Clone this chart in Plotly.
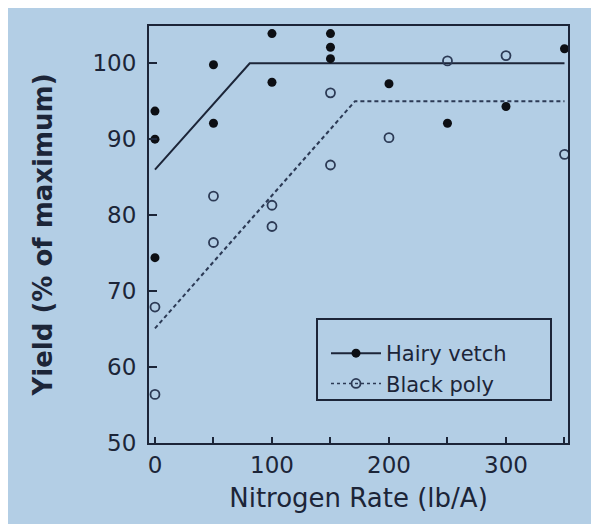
import plotly.graph_objects as go

# Data
vetch_x = [0, 0, 0, 50, 50, 100, 100, 150, 150, 150, 200, 250, 300, 350]
vetch_y = [93.7, 90.0, 74.4, 99.8, 92.1, 103.9, 97.5, 103.9, 102.1, 100.6, 97.3, 92.1, 94.3, 101.9]

poly_x = [0, 0, 50, 50, 100, 100, 150, 150, 200, 250, 300, 350]
poly_y = [67.9, 56.4, 82.5, 76.4, 81.3, 78.5, 96.1, 86.6, 90.2, 100.3, 101.0, 88.0]

vetch_fit_x = [0, 81, 350]
vetch_fit_y = [86.0, 100.0, 100.0]

poly_fit_x = [0, 171, 350]
poly_fit_y = [65.1, 95.0, 95.0]

x_tickvals = [0, 50, 100, 150, 200, 250, 300, 350]
x_ticktext = ["0", "", "100", "", "200", "", "300", ""]
y_tickvals = [50, 60, 70, 80, 90, 100]

BG = "#b3cee5"
INK = "#1c2538"
FONT = "DejaVu Sans"

# plot-area box in screen px (page has an 8px body margin)
L, R, T, B = 149, 568, 26, 443
OFF = 8
W, H = 599, 524


def isolate(xs, ys):
    ox, oy = [], []
    for a, b in zip(xs, ys):
        ox += [a, None]
        oy += [b, None]
    return ox, oy


def px_x(v):
    return (v - L) / (R - L)


def px_y(v):
    return (B - v) / (B - T)


fig = go.Figure()

vx, vy = isolate(vetch_x, vetch_y)
px_, py_ = isolate(poly_x, poly_y)

fig.add_trace(go.Scatter(
    x=vetch_fit_x, y=vetch_fit_y, mode="lines", showlegend=False,
    line=dict(color=INK, width=2), hoverinfo="skip"))
fig.add_trace(go.Scatter(
    x=poly_fit_x, y=poly_fit_y, mode="lines", showlegend=False,
    line=dict(color="#2c3a55", width=2, dash="4px,3px"), hoverinfo="skip"))

fig.add_trace(go.Scatter(
    x=vx, y=vy, mode="lines+markers", name="Hairy vetch", connectgaps=False,
    line=dict(color=INK, width=2),
    marker=dict(symbol="circle", size=9, color="#0d0f14")))
fig.add_trace(go.Scatter(
    x=px_, y=py_, mode="lines+markers", name="Black poly", connectgaps=False,
    line=dict(color="#2c3a55", width=1.5, dash="3px,3px"),
    marker=dict(symbol="circle-open", size=9, color="#2c3a55",
                line=dict(width=1.8, color="#2c3a55"))))

# legend frame
fig.add_shape(type="rect", xref="paper", yref="paper",
              x0=px_x(317), x1=px_x(551), y0=px_y(400), y1=px_y(319),
              line=dict(color=INK, width=2), fillcolor="rgba(0,0,0,0)")

fig.update_layout(
    width=W, height=H,
    margin=dict(l=L - OFF, r=W - (R - OFF), t=T - OFF, b=H - (B - OFF)),
    paper_bgcolor=BG, plot_bgcolor=BG,
    font=dict(family=FONT, color=INK, size=20),
    showlegend=True,
    legend=dict(x=px_x(326), y=px_y(333), xanchor="left", yanchor="top",
                bgcolor="rgba(0,0,0,0)", borderwidth=0, itemwidth=50,
                font=dict(family=FONT, size=21, color=INK),
                tracegroupgap=0),
)

fig.update_xaxes(
    range=[-5.1, 353], tickvals=x_tickvals, ticktext=x_ticktext,
    ticks="inside", ticklen=6, tickwidth=1.5, tickcolor=INK,
    showline=True, linecolor=INK, linewidth=2, mirror=True,
    showgrid=False, zeroline=False,
    tickfont=dict(family=FONT, size=23, color=INK),
    title=dict(text="Nitrogen Rate (lb/A)", font=dict(family=FONT, size=26, color=INK), standoff=12),
)
fig.update_yaxes(
    range=[50, 104.9], tickvals=y_tickvals,
    ticks="inside", ticklen=8, tickwidth=1.5, tickcolor=INK,
    showline=True, linecolor=INK, linewidth=2, mirror=True,
    showgrid=False, zeroline=False, ticklabelstandoff=6,
    tickfont=dict(family=FONT, size=23, color=INK),
    title=dict(text="Yield (% of maximum)", font=dict(family=FONT, size=26, color=INK, weight="bold"), standoff=32),
)

fig.write_html("out.html")
